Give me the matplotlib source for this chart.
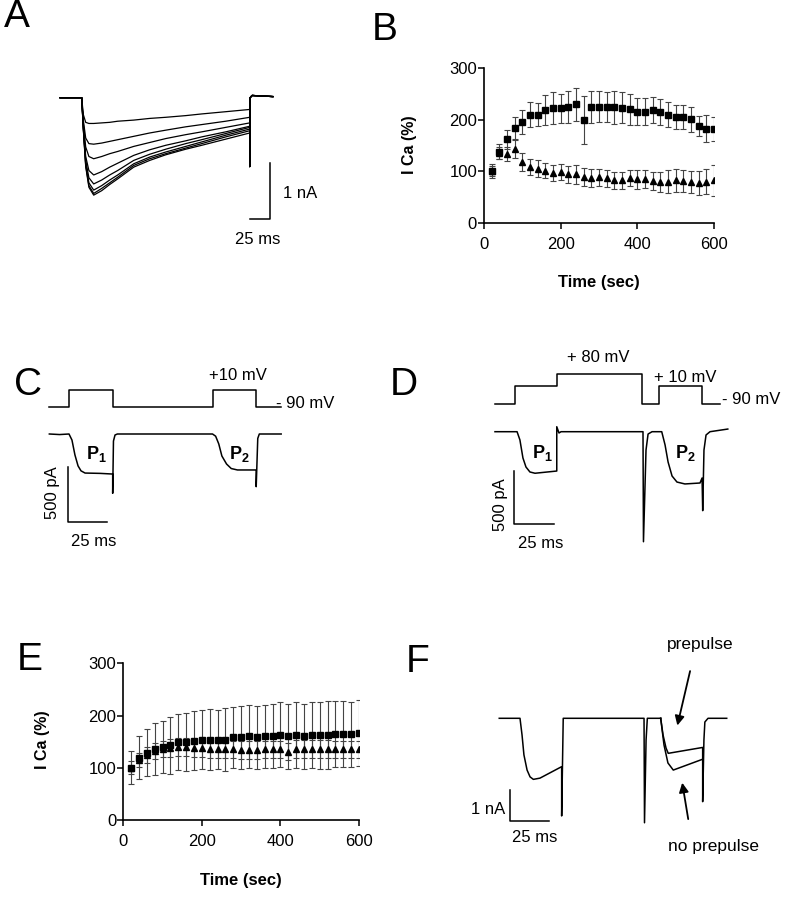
import matplotlib
matplotlib.use("Agg")
import matplotlib.pyplot as plt

plt.rcParams["font.family"] = ["Liberation Sans", "DejaVu Sans"]
plt.rcParams["mathtext.fontset"] = "custom"
plt.rcParams["mathtext.rm"] = "Liberation Sans"
plt.rcParams["mathtext.bf"] = "Liberation Sans:bold"

W, H = 788, 899

# ---- time course data (B, E): % of initial I Ca every 20 s ----
time_sec = list(range(20, 601, 20))

b_square = [100, 138, 162, 184, 196, 210, 210, 219, 222, 222, 224, 230, 199, 224, 225,
            224, 224, 223, 220, 216, 216, 219, 215, 210, 206, 206, 201, 188, 183, 182]
b_square_err = [14, 14, 19, 21, 23, 24, 22, 30, 31, 29, 31, 32, 47, 31, 30,
                29, 32, 30, 31, 27, 27, 26, 25, 24, 23, 23, 24, 20, 27, 23]
b_triangle = [100, 135, 133, 143, 118, 108, 105, 101, 97, 98, 94, 94, 89, 87, 88,
              86, 82, 82, 87, 84, 85, 81, 79, 80, 82, 81, 79, 77, 80, 82]
b_triangle_err = [10, 12, 14, 18, 18, 16, 16, 15, 16, 16, 17, 18, 18, 17, 17,
                  17, 17, 17, 16, 18, 18, 18, 20, 22, 22, 21, 21, 23, 25, 30]

e_square = [100, 119, 129, 136, 140, 143, 149, 149, 152, 154, 154, 154, 154, 158, 158,
            160, 158, 160, 161, 163, 160, 162, 160, 162, 162, 162, 164, 164, 164, 167]
e_square_err = [32, 41, 45, 49, 50, 54, 53, 55, 57, 56, 58, 57, 60, 59, 60,
                60, 60, 61, 62, 62, 63, 63, 63, 63, 64, 65, 63, 63, 62, 63]
e_triangle = [100, 115, 125, 132, 136, 138, 140, 140, 137, 137, 136, 135, 135, 135, 134,
              134, 134, 135, 135, 135, 131, 136, 136, 136, 136, 136, 135, 135, 135, 135]
e_triangle_err = [12, 14, 15, 16, 16, 17, 17, 17, 17, 17, 17, 17, 17, 17, 17,
                  17, 17, 17, 17, 17, 17, 17, 17, 17, 17, 17, 17, 17, 17, 17]

# ---- panel A: family of Ca currents (ms, nA), vertices ----
a_t = [0, 2, 5, 9, 15, 25, 35, 45, 65, 85, 105, 130, 150, 180, 210]
a_traces = [
    [0, -0.30, -0.44, -0.46, -0.46, -0.45, -0.44, -0.42, -0.40, -0.37, -0.35, -0.32, -0.29, -0.25, -0.21],
    [0, -0.40, -0.72, -0.82, -0.83, -0.81, -0.78, -0.75, -0.69, -0.63, -0.58, -0.52, -0.48, -0.42, -0.35],
    [0, -0.45, -0.88, -1.05, -1.09, -1.05, -1.00, -0.96, -0.87, -0.80, -0.73, -0.66, -0.61, -0.53, -0.45],
    [0, -0.50, -1.05, -1.30, -1.38, -1.32, -1.24, -1.17, -1.03, -0.93, -0.85, -0.77, -0.70, -0.61, -0.51],
    [0, -0.52, -1.12, -1.43, -1.54, -1.47, -1.38, -1.30, -1.12, -1.01, -0.92, -0.82, -0.75, -0.64, -0.53],
    [0, -0.54, -1.18, -1.52, -1.65, -1.57, -1.47, -1.38, -1.18, -1.06, -0.97, -0.87, -0.79, -0.67, -0.56],
    [0, -0.55, -1.21, -1.57, -1.71, -1.62, -1.52, -1.42, -1.21, -1.09, -1.00, -0.90, -0.82, -0.70, -0.59],
    [0, -0.56, -1.23, -1.60, -1.74, -1.66, -1.55, -1.45, -1.24, -1.12, -1.02, -0.92, -0.85, -0.74, -0.63],
]
a_pre_t, a_pre_i = [-27, 0], [0, 0]
a_post_t, a_post_i = [210, 210.5, 213, 239], [-1.23, 0, 0.04, 0.02]

# ---- panel C: double pulse (ms, mV / pA) ----
c_proto_t = [-12.6, 0, 0, 28, 28, 92, 92, 120, 120, 136]
c_proto_v = [-90, -90, 10, 10, -90, -90, 10, 10, -90, -90]
c_t = [-12.6, -6, 0, 1.9, 3.8, 5.8, 7.7, 10.3, 20, 28, 28, 28.5, 29.5, 31, 60,
       92, 94, 96, 98, 101, 104, 108, 120, 120, 121, 122, 136]
c_i = [0, -5, 0, -55, -190, -290, -335, -355, -358, -364, -539, -64, -9, 0, 0,
       0, -20, -90, -200, -273, -314, -327, -327, -479, -40, 0, 0]

# ---- panel D: double pulse with +80 mV conditioning step ----
d_proto_t = [-12.6, 0, 0, 26.3, 26.3, 80.2, 80.2, 90.9, 90.9, 118, 118, 129]
d_proto_v = [-90, -90, 10, 10, 80, 80, -90, -90, 10, 10, -90, -90]
d_t = [-12.6, 1.3, 3.1, 5.0, 6.9, 9.4, 12.6, 26.3, 26.3, 27.7, 29, 80.6, 80.9, 82.5,
       83.8, 86.3, 92.4, 94.5, 96.4, 98.9, 102, 107, 116.5, 117.8, 118.2, 119, 120.3,
       122.8, 134]
d_i = [0, 0, -78, -248, -333, -380, -392, -371, 47, -12, 0, 0, -1038, -173,
       -22, 0, 0, -125, -286, -418, -475, -493, -484, -437, -745, -173, -31,
       0, 25]

# ---- panel F: with / without prepulse (ms, nA) ----
f_t = [-13.2, 0, 1.3, 2.5, 4.5, 6.4, 8.5, 12.7, 26.5, 26.5, 27.5, 78.9, 79.2, 80.2, 81, 89.5]
f_i = [0, 0, -0.54, -1.18, -1.67, -1.89, -1.97, -1.93, -1.56, -3.15, 0, 0, -3.37, -0.7, 0, 0]
f_pre_t = [89.5, 91, 92.9, 94.3, 116.2, 116.2, 117, 117.6, 119.6, 131.5]
f_pre_i = [0, -0.54, -0.96, -1.13, -0.94, -2.69, -0.7, -0.12, 0, 0]
f_nopre_t = [89.5, 91.6, 94.1, 97.5, 116.2]
f_nopre_i = [0, -0.86, -1.44, -1.67, -1.32]


fig = plt.figure(figsize=(W / 100, H / 100), dpi=100)


def px_axes(left, top, right, bottom):
    return fig.add_axes([left / W, 1 - bottom / H, (right - left) / W, (bottom - top) / H])


def trace_axes(box, t0_px, y0_px, px_per_t, px_per_y):
    # axes with fixed pixel scale so that scale bars keep their size
    left, top, right, bottom = box
    ax = px_axes(left, top, right, bottom)
    ax.set_xlim((left - t0_px) / px_per_t, (right - t0_px) / px_per_t)
    ax.set_ylim((y0_px - bottom) / px_per_y, (y0_px - top) / px_per_y)
    ax.axis("off")
    return ax


def ptext(x, y, s, **kw):
    kw.setdefault("ha", "center")
    kw.setdefault("va", "center")
    kw.setdefault("fontsize", 12)
    fig.text(x / W, 1 - y / H, s, **kw)


def time_course(ax, sq, sq_err, tri, tri_err):
    ax.errorbar(time_sec, tri, yerr=tri_err, fmt="^", color="black", ms=4.5,
                ecolor="#444444", elinewidth=0.8, capsize=2.5, capthick=0.8)
    ax.errorbar(time_sec, sq, yerr=sq_err, fmt="s", color="black", ms=5,
                ecolor="#444444", elinewidth=0.8, capsize=2.5, capthick=0.8)
    ax.set_xlim(0, 600)
    ax.set_ylim(0, 300)
    ax.set_xticks([0, 200, 400, 600])
    ax.set_yticks([0, 100, 200, 300])
    for s in ["top", "right"]:
        ax.spines[s].set_visible(False)
    for s in ["left", "bottom"]:
        ax.spines[s].set_linewidth(1.2)
    ax.tick_params(direction="out", length=4, width=1.1, labelsize=12)
    ax.tick_params(axis="x", pad=6)
    ax.tick_params(axis="y", pad=1)
    ax.patch.set_alpha(0)


# ---------------- A ----------------
axA = trace_axes((40, 40, 340, 260), 81.7, 97.7, 0.8, 56)
for tr in a_traces:
    axA.plot(a_pre_t + a_t + a_post_t, a_pre_i + tr + a_post_i, color="black", lw=0.9)
axA.plot([211, 236, 236], [-2.17, -2.17, -1.17], color="black", lw=1.1)
ptext(283, 194, "1 nA", ha="left")
ptext(258, 239, "25 ms")

# ---------------- B ----------------
axB = px_axes(484, 68.3, 714, 222.7)
time_course(axB, b_square, b_square_err, b_triangle, b_triangle_err)
ptext(410, 145, "I Ca (%)", rotation=90, fontweight="bold", fontsize=11.5)
ptext(599, 283, "Time (sec)", fontweight="bold")

# ---------------- C ----------------
axCv = trace_axes((40, 360, 300, 420), 69, 391.7, 1.56, 0.173)
axCv.plot(c_proto_t, c_proto_v, color="black", lw=1.1)
axCi = trace_axes((40, 420, 300, 560), 69, 434, 1.56, 0.11)
axCi.plot(c_t, c_i, color="black", lw=1.1)
axCi.plot([-0.45, -0.45, 24.55], [-297, -797, -797], color="black", lw=1.1)
ptext(238, 375, "+10 mV")
ptext(276, 404, "- 90 mV", ha="left")
ptext(96, 454, r"$\mathbf{P_1}$", fontsize=13)
ptext(239, 454, r"$\mathbf{P_2}$", fontsize=13)
ptext(53, 493, "500 pA", rotation=90)
ptext(94, 542, "25 ms")

# ---------------- D ----------------
axDv = trace_axes((480, 345, 740, 420), 515, 388.1, 1.588, 0.175)
axDv.plot(d_proto_t, d_proto_v, color="black", lw=1.1)
axDi = trace_axes((480, 420, 740, 560), 515, 431.7, 1.588, 0.106)
axDi.plot(d_t, d_i, color="black", lw=1.1)
axDi.plot([-0.44, -0.44, 24.56], [-371, -871, -871], color="black", lw=1.1)
ptext(598, 358, "+ 80 mV")
ptext(685, 377, "+ 10 mV")
ptext(722, 399, "- 90 mV", ha="left")
ptext(542, 453, r"$\mathbf{P_1}$", fontsize=13)
ptext(685, 453, r"$\mathbf{P_2}$", fontsize=13)
ptext(500, 505, "500 pA", rotation=90)
ptext(541, 543, "25 ms")

# ---------------- E ----------------
axE = px_axes(123.3, 663.3, 359, 820)
time_course(axE, e_square, e_square_err, e_triangle, e_triangle_err)
ptext(43, 740, "I Ca (%)", rotation=90, fontweight="bold", fontsize=11.5)
ptext(241, 880, "Time (sec)", fontweight="bold")

# ---------------- F ----------------
axF = trace_axes((480, 630, 788, 870), 520, 718.3, 1.572, 31)
axF.plot(f_t, f_i, color="black", lw=1.1)
axF.plot(f_pre_t, f_pre_i, color="black", lw=1.1)
axF.plot(f_nopre_t, f_nopre_i, color="black", lw=1.1)
axF.plot([-6.4, -6.4, 18.6], [-2.31, -3.31, -3.31], color="black", lw=1.1)
axF.annotate("", xy=(99.7, -0.32), xytext=(108.6, 1.61),
             arrowprops=dict(arrowstyle="-|>", color="black", lw=1.3, mutation_scale=14))
axF.annotate("", xy=(102.9, -1.99), xytext=(107.3, -3.34),
             arrowprops=dict(arrowstyle="-|>", color="black", lw=1.3, mutation_scale=14))
ptext(505, 810, "1 nA", ha="right")
ptext(535, 838, "25 ms")
ptext(700, 645, "prepulse", fontsize=12.5)
ptext(713, 847, "no prepulse", fontsize=12.5)

# panel letters
for letter, x, y in [("A", 17, 17), ("B", 385, 30), ("C", 28, 385),
                     ("D", 404, 385), ("E", 30, 660), ("F", 418, 662)]:
    ptext(x, y, letter, fontsize=28)

fig.savefig("out.png", dpi=100)
